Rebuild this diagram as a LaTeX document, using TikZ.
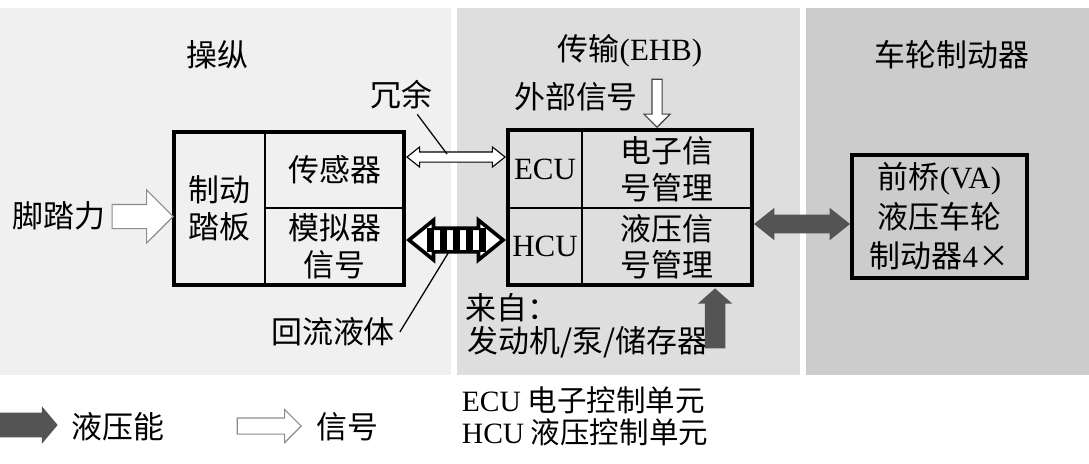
\documentclass[tikz,border=0pt]{standalone}
\usepackage{fontspec}
\setmainfont{Noto Sans CJK SC}
\newfontfamily\tnr{Liberation Serif}
\usepackage{tikz}
\usetikzlibrary{arrows.meta,positioning,calc,shapes.arrows}
\tikzset{
  cell/.style  = {rectangle, draw=black, line width=1.8pt, outer sep=0pt,
                  inner sep=0pt, align=center},
  frame/.style = {draw=black, line width=3pt},
  ttl/.style   = {inner sep=1pt},
  lead/.style  = {draw=black, line width=0.9pt},
  sig/.style   = {single arrow, draw=black!45, fill=white, line width=0.8pt},
  dsig/.style  = {double arrow, draw=black, fill=white, line width=0.8pt},
  hyd/.style   = {single arrow, draw=none, fill=black!67},
  dhyd/.style  = {double arrow, draw=none, fill=black!67}
}

\begin{document}
\begin{tikzpicture}[x=0.025cm, y=-0.025cm, font=\fontsize{22}{26}\selectfont]
    \useasboundingbox (0,0) rectangle (1089,463);

    % ---- Panels ----
    \fill[gray!12] (0,8) rectangle (451,375);
    \fill[gray!26] (457,8) rectangle (800,375);
    \fill[gray!40] (806,8) rectangle (1089,375);
    \node[ttl] (tctrl)  at (217,55) {操纵};
    \node[ttl] (ttrans) at (630,51) {传输{\tnr(EHB)}};
    \node[ttl] (twheel) at (952,55) {车轮制动器};

    % ---- Operation block ----
    \node[cell, minimum width=2.275cm, minimum height=3.825cm] (pedal)
         at (219.5,208.5) {制动\\踏板};
    \node[cell, minimum width=3.475cm, minimum height=1.9cm,
          anchor=north west] (sensor) at (pedal.north east) {传感器};
    \node[cell, minimum width=3.475cm, minimum height=1.925cm,
          anchor=north west] (sim) at (sensor.south west) {模拟器\\信号};
    \draw[frame] (pedal.north west) rectangle (sim.south east);

    % ---- EHB block ----
    \node[cell, minimum width=1.85cm, minimum height=1.95cm] (ecu)
         at (545,169) {\tnr ECU};
    \node[cell, minimum width=1.85cm, minimum height=1.925cm,
          anchor=north] (hcu) at (ecu.south) {\tnr HCU};
    \node[cell, minimum width=4.25cm, minimum height=1.95cm,
          anchor=north west] (elec) at (ecu.north east) {电子信\\号管理};
    \node[cell, minimum width=4.25cm, minimum height=1.925cm,
          anchor=north west] (hydm) at (hcu.north east) {液压信\\号管理};
    \draw[frame] (ecu.north west) rectangle (hydm.south east);

    % ---- Wheel brake ----
    \node[cell, line width=3pt, minimum width=4.375cm, minimum height=3.075cm,
          font=\fontsize{22}{28}\selectfont] (brake) at (939.5,216.5)
         {前桥{\tnr(VA)}\\液压车轮\\制动器{\tnr 4}×};

    % ---- Labels ----
    \node (foot)   at (59,216)  {脚踏力};
    \node (ext)    at (576,97)  {外部信号};
    \node (redlbl) at (401,95)  {冗余};
    \node (retlbl) at (333,332) {回流液体};
    \node[anchor=west, inner sep=0pt] (from) at (465,308) {来自：};
    \node[anchor=west, inner sep=0pt] (src)  at (467,342) {发动机/泵/储存器};

    % ---- Arrows ----
    \node[sig, anchor=tip, minimum height=1.525cm, inner sep=0.2875cm,
          single arrow head extend=0.3625cm] (footar)
         at ($(pedal.west)+(0,8)$) {};
    \node[dsig, minimum height=2.45cm, inner sep=0.1125cm,
          double arrow head extend=0.125cm, double arrow tip angle=77] (redar)
         at ($(sensor.east)!0.5!(ecu.west)+(0,-12.5)$) {};
    \node[dsig, line width=2.6pt, minimum height=2.35cm, inner sep=0.25cm,
          double arrow head extend=0.2cm, double arrow tip angle=78,
          path picture={\foreach \k in {-2,...,2}
            \fill[black] ($(path picture bounding box.center)+(\k*13-3.5,-12)$)
              rectangle ++(7,24);}] (retar)
         at ($(sim.east)!0.5!(hcu.west)+(0,-6.5)$) {};
    \node[dhyd, minimum height=2.4cm, inner sep=0.225cm,
          double arrow head extend=0.175cm, double arrow tip angle=77] (hydar)
         at ($(hydm.east)!0.5!(brake.west)+(0,-7.5)$) {};
    \node[sig, draw=black!75, anchor=tip, shape border rotate=270,
          minimum height=1.2cm, inner sep=0.1125cm,
          single arrow head extend=0.2cm] (extar)
         at ($(elec.north)+(-10,-2)$) {};
    \node[hyd, anchor=tip, shape border rotate=90, minimum height=1.5cm,
          inner sep=0.25cm, single arrow head extend=0.175cm,
          single arrow tip angle=97] (srcar)
         at ($(hydm.south)+(48,3)$) {};

    % ---- Lead lines ----
    \coordinate (redpt) at ($(redar.center)+(-9,-3)$);
    \coordinate (retpt) at ($(retar.center)+(-6,10)$);
    \draw[lead] (redlbl.-50) -- (redpt);
    \draw[lead] (retlbl.east) -- (retpt);

    % ---- Legend ----
    \node[hyd, anchor=tip, minimum height=1.45cm, inner sep=0.3cm,
          single arrow head extend=0.1625cm, single arrow tip angle=100]
         (hydleg) at (58,425) {};
    \node (hydlbl) at (118,427) {液压能};
    \node[sig, anchor=tip, minimum height=1.6cm, inner sep=0.1875cm,
          single arrow head extend=0.2125cm] (sigleg) at (302,426) {};
    \node (siglbl) at (347,427) {信号};
    \node[align=left, font=\fontsize{21}{23}\selectfont] (abbr) at (585,416)
         {{\tnr ECU} 电子控制单元\\{\tnr HCU} 液压控制单元};
\end{tikzpicture}
\end{document}
